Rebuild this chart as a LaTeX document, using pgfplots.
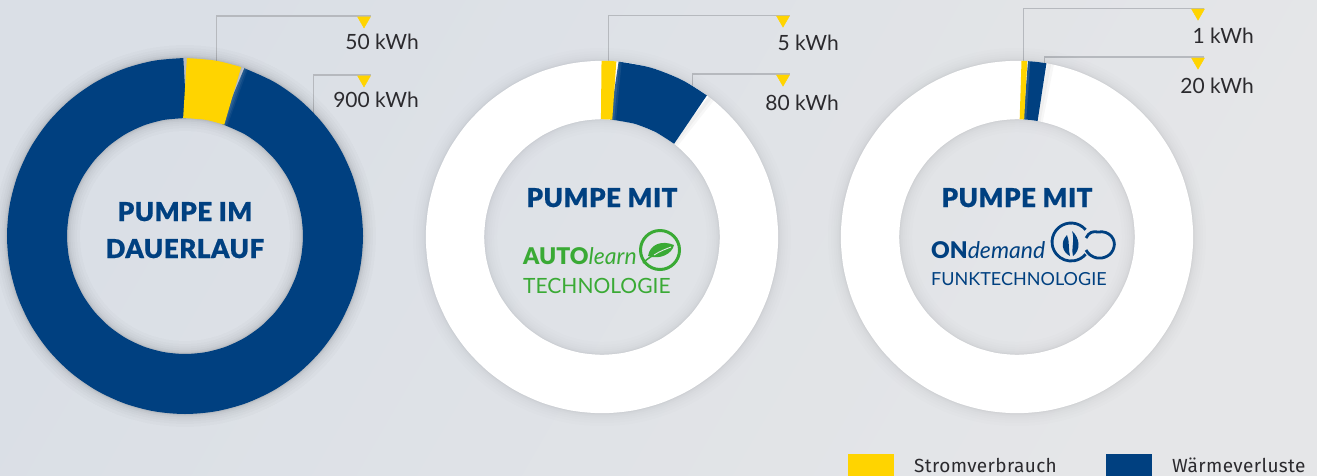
\documentclass[border=0pt]{standalone}
\usepackage{pgfplots}
\usepackage{pgfplotstable}
\usepackage{fontspec}
\pgfplotsset{compat=1.18}
\setmainfont{Lato}
\newfontfamily\legendfont[LetterSpace=2]{Fira Sans}
\newfontfamily\blackfont[FakeBold=0.6,LetterSpace=2]{Lato Black}
\newfontfamily\logofont{Lato Black}
\definecolor{ky}{HTML}{FFD400}
\definecolor{kb}{HTML}{004080}
\definecolor{kg}{HTML}{3AAA35}
\definecolor{ln}{HTML}{B6B9BE}
\definecolor{tx}{HTML}{2B2A2E}
\definecolor{bgt}{HTML}{DADFE6}
\definecolor{bgb}{HTML}{E5E6E8}
% polar angle (math degrees), radius in ring units
\pgfplotstableread{
a r
90 1
80 1
70 1
60 1
50 1
40 1
30 1
20 1
10 1
0 1
-10 1
-20 1
-30 1
-40 1
-50 1
-60 1
-70 1
-80 1
-90 1
-100 1
-110 1
-120 1
-130 1
-140 1
-150 1
-160 1
-170 1
-180 1
-190 1
-200 1
-210 1
-220 1
-230 1
-240 1
-250 1
-260 1
}\ringfull
\pgfplotstableread{
a r
90 1
80 1
71.2 1
}\oney
\pgfplotstableread{
a r
71.2 1
60 1
50 1
40 1
30 1
20 1
10 1
0 1
-10 1
-20 1
-30 1
-40 1
-50 1
-60 1
-70 1
-80 1
-90 1
-100 1
-110 1
-120 1
-130 1
-140 1
-150 1
-160 1
-170 1
-180 1
-190 1
-200 1
-210 1
-220 1
-230 1
-240 1
-250 1
-260 1
-270 1
}\oneb
\pgfplotstableread{
a r
90.3 1
87.7 1
85.2 1
}\twoy
\pgfplotstableread{
a r
85.2 1
74 1
63 1
53 1
}\twob
\pgfplotstableread{
a r
88.6 1
87.6 1
86.6 1
}\threey
\pgfplotstableread{
a r
86.6 1
83.4 1
80.2 1
}\threeb
\pgfplotsset{
  pix/.style={hide axis,scale only axis,clip=false,xmin=0,xmax=1317,ymin=0,ymax=475,y dir=reverse,
    x=1pt,y=1pt,at={(0pt,0pt)},anchor=south west},
  ring/.style={hide axis,scale only axis,clip=false,xmin=-1.4,xmax=1.4,ymin=-1.4,ymax=1.4,anchor=center},
  seg/.style={no marks,smooth,data cs=polar,line cap=butt},
  cyc/.style={no marks,smooth cycle,data cs=polar},
}
\newcommand\shadowring[1]{%
  \addplot[cyc,black,opacity=.008,line width=#1+26pt] table[x=a,y=r] {\ringfull};
  \addplot[cyc,black,opacity=.008,line width=#1+20pt] table[x=a,y=r] {\ringfull};
  \addplot[cyc,black,opacity=.008,line width=#1+15pt] table[x=a,y=r] {\ringfull};
  \addplot[cyc,black,opacity=.008,line width=#1+11pt] table[x=a,y=r] {\ringfull};
  \addplot[cyc,black,opacity=.01,line width=#1+7pt] table[x=a,y=r] {\ringfull};
  \addplot[cyc,black,opacity=.012,line width=#1+4pt] table[x=a,y=r] {\ringfull};
  \addplot[cyc,black,opacity=.02,line width=#1+2pt] table[x=a,y=r] {\ringfull};
}
\begin{document}
\begin{tikzpicture}
\path[use as bounding box] (0pt,0pt) rectangle (1317pt,475pt);
\shade[top color=bgt,bottom color=bgb,shading angle=60] (0pt,0pt) rectangle (1317pt,475pt);
% leader lines
\begin{axis}[pix]
\addplot[ln,line width=1.4pt,no marks] coordinates {(216.5,110)(216.5,16)(371,16)};
\addplot[ln,line width=1.4pt,no marks] coordinates {(313.5,120)(313.5,75)(371,75)};
\addplot[ln,line width=1.4pt,no marks] coordinates {(608.5,90)(608.5,15.5)(790,15.5)};
\addplot[ln,line width=1.4pt,no marks] coordinates {(692.5,110)(692.5,74)(790,74)};
\addplot[ln,line width=1.4pt,no marks] coordinates {(1023.5,90)(1023.5,8.5)(1204,8.5)};
\addplot[ln,line width=1.4pt,no marks] coordinates {(1044.5,90)(1044.5,57)(1204,57)};
\addplot[only marks,mark=triangle*,mark size=7.5pt,ky,mark options={rotate=180,draw=none,fill=ky}]
  coordinates {(364,20.5)(364,79.5)(783,19.7)(783,78.7)(1198,12.7)(1198,61.7)};
\end{axis}
% donut 1
\begin{axis}[ring,x=148pt,y=148pt,at={(185pt,239pt)}]
\shadowring{60pt}
\shadowring{60pt}
\addplot[seg,kb,line width=60pt] table[x=a,y=r] {\oneb};
\addplot[seg,white,opacity=.08,line width=60pt] coordinates {(71.2,1)(70.4,1)};
\addplot[seg,white,opacity=.07,line width=60pt] coordinates {(71.2,1)(69.8,1)};
\addplot[seg,white,opacity=.05,line width=60pt] coordinates {(71.2,1)(69.2,1)};
\addplot[seg,ky,line width=60pt] table[x=a,y=r] {\oney};
\end{axis}
% donut 2
\begin{axis}[ring,x=147pt,y=147pt,at={(602pt,238pt)}]
\shadowring{58.4pt}
\addplot[cyc,white,line width=58.4pt] table[x=a,y=r] {\ringfull};
\addplot[seg,black,opacity=.03,line width=58.4pt] coordinates {(53,1)(50.5,1)};
\addplot[seg,black,opacity=.03,line width=58.4pt] coordinates {(53,1)(51.5,1)};
\addplot[seg,kb,line width=58.4pt] table[x=a,y=r] {\twob};
\addplot[seg,white,opacity=.1,line width=58.4pt] coordinates {(85.2,1)(84.2,1)};
\addplot[seg,white,opacity=.07,line width=58.4pt] coordinates {(85.2,1)(83.4,1)};
\addplot[seg,ky,line width=58.4pt] table[x=a,y=r] {\twoy};
\end{axis}
% donut 3
\begin{axis}[ring,x=147pt,y=147pt,at={(1017pt,238pt)}]
\shadowring{58.4pt}
\addplot[cyc,white,line width=58.4pt] table[x=a,y=r] {\ringfull};
\addplot[seg,black,opacity=.03,line width=58.4pt] coordinates {(80.2,1)(77.7,1)};
\addplot[seg,black,opacity=.03,line width=58.4pt] coordinates {(80.2,1)(78.7,1)};
\addplot[seg,kb,line width=58.4pt] table[x=a,y=r] {\threeb};
\addplot[seg,white,opacity=.12,line width=58.4pt] coordinates {(86.6,1)(85.6,1)};
\addplot[seg,ky,line width=58.4pt] table[x=a,y=r] {\threey};
\end{axis}
% text and legend
\begin{axis}[pix]
\addplot[fill=ky,draw=none] coordinates {(848,454)(894,454)(894,476)(848,476)} -- cycle;
\addplot[fill=kb,draw=none] coordinates {(1106,454)(1152,454)(1152,476)(1106,476)} -- cycle;
\def\kwh#1#2#3{\node[anchor=base east,inner sep=0pt,text=tx,font=\fontsize{21}{25}\selectfont] at (#1,#2) {#3~kWh};}
\kwh{419}{49}{50}
\kwh{419}{107}{900}
\kwh{839}{50}{5}
\kwh{839}{110}{80}
\kwh{1254}{43}{1}
\kwh{1254}{93}{20}
\def\ttl#1#2#3{\node[anchor=base,inner sep=0pt,text=kb,font=\blackfont\fontsize{26}{31}\selectfont] at (#1,#2) {#3};}
\ttl{185}{221}{PUMPE IM}
\ttl{185}{258}{DAUERLAUF}
\ttl{602}{207}{PUMPE MIT}
\ttl{1017}{207}{PUMPE MIT}
% AUTOlearn logo
\node[anchor=base west,inner sep=0pt,text=kg,font=\fontsize{23}{28}\selectfont] at (523,264) {{\logofont AUTO}\textit{learn}};
\node[anchor=base west,inner sep=0pt,text=kg,font=\fontsize{21}{26}\selectfont] at (523,293) {TECHNOLOGIE};
\draw[kg,line width=3pt] (660,250) circle [radius=19.5];
\fill[kg] (648,256) .. controls (650,244) and (662,240) .. (674,245) .. controls (672,254) and (660,260) .. (648,256) -- cycle;
\draw[kg,line width=1.5pt] (643,263) .. controls (648,258) and (652,256) .. (656,254);
\draw[bgb,line width=.9pt] (654,255) .. controls (660,251) and (666,249) .. (671,247);
% ONdemand logo
\node[anchor=base west,inner sep=0pt,text=kb,font=\fontsize{23}{28}\selectfont] at (931,258) {{\logofont ON}\textit{demand}};
\node[anchor=base west,inner sep=0pt,text=kb,font=\fontsize{18}{23}\selectfont] at (931,285) {FUNKTECHNOLOGIE};
\draw[kb,line width=2.8pt] (1085.6,229.8) arc [start angle=-40,end angle=-320,radius=19];
\draw[kb,line width=2.8pt] (1086,238) .. controls (1089,232) and (1093,231) .. (1098,232) .. controls (1110,230) and (1116,240) .. (1114,247) .. controls (1112,256) and (1103,259) .. (1097,258) .. controls (1092,257) and (1088,254) .. (1086,250);
\fill[kb] (1072,231) .. controls (1080,238) and (1081,250) .. (1073,256) .. controls (1071,248) and (1075,240) .. (1072,231) -- cycle;
\fill[kb] (1067,235) .. controls (1070,242) and (1068,250) .. (1070,256) .. controls (1062,252) and (1060,242) .. (1067,235) -- cycle;
% legend texts
\node[anchor=base west,inner sep=0pt,text=tx,font=\legendfont\fontsize{19}{23}\selectfont] at (914,472.5) {Stromverbrauch};
\node[anchor=base west,inner sep=0pt,text=tx,font=\legendfont\fontsize{19}{23}\selectfont] at (1172,472.5) {Wärmeverluste};
\end{axis}
\end{tikzpicture}
\end{document}
